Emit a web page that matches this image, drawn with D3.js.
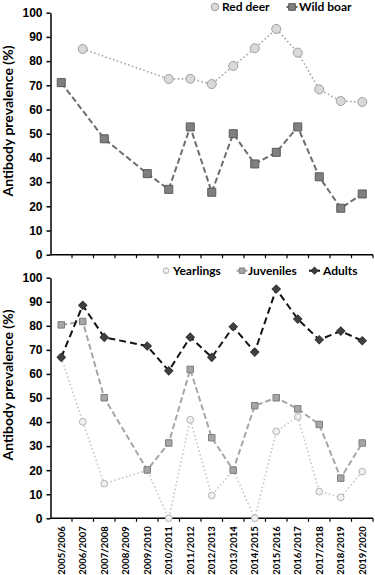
<!DOCTYPE html>
<html>
<head>
<meta charset="utf-8">
<script src="https://cdn.jsdelivr.net/npm/d3@7"></script>
<style>
	body { margin: 0; background: #fff; }
	svg { display: block; font-family: Lato, 'Open Sans', sans-serif; }
</style>
</head>
<body>
<div id="chart"></div>
<script>
const seasons = ['2005/2006', '2006/2007', '2007/2008', '2008/2009', '2009/2010', '2010/2011', '2011/2012',
	'2012/2013', '2013/2014', '2014/2015', '2015/2016', '2016/2017', '2017/2018', '2018/2019', '2019/2020'];

// top panel
const redDeer = [null, 85, null, null, null, 72.6, 72.7, 70.5, 78, 85.3, 93.3, 83.5, 68.3, 63.5, 63.1];
const wildBoar = [71.1, null, 47.9, null, 33.5, 27, 52.8, 25.8, 50, 37.5, 42.3, 52.8, 32.2, 19.2, 25.1];

// bottom panel (wild boar by age)
const yearlings = [66.9, 40.1, 14.4, null, 20, 0, 41, 9.5, 20, 0, 36.1, 42.2, 11.1, 8.7, 19.4];
const juveniles = [80.4, 81.8, 50.1, null, 20.1, 31.3, 61.9, 33.5, 20, 46.8, 50.1, 45.5, 39, 16.7, 31.3];
const adults = [66.9, 88.5, 75.2, null, 71.6, 61.3, 75.3, 66.9, 79.6, 69.1, 95.3, 82.8, 74.2, 77.8, 73.8];

const yTicks = [0, 10, 20, 30, 40, 50, 60, 70, 80, 90, 100];

const svg = d3.select('#chart').append('svg').attr('width', 375).attr('height', 575);

const x = d3.scaleBand().domain(seasons).range([50.5, 373]);

function drawPanel(y, series, labelY) {
	const g = svg.append('g');

	g.append('g')
		.attr('transform', 'translate(50.5,0)')
		.call(d3.axisLeft(y).tickValues(yTicks).tickSize(4).tickSizeOuter(0).tickPadding(4))
		.call((a) => a.selectAll('path, line').attr('stroke', '#000').attr('stroke-width', 1.5))
		.call((a) => a.selectAll('text').attr('font-size', 12).attr('font-weight', 'bold').attr('fill', '#000'));

	// x axis line with ticks at band boundaries
	const xa = g.append('g').attr('transform', `translate(0,${y(0)})`);
	xa.append('line')
		.attr('x1', 50.5)
		.attr('x2', 373)
		.attr('stroke', '#000')
		.attr('stroke-width', 1.5);
	xa.selectAll('.xt')
		.data(seasons)
		.enter()
		.append('line')
		.attr('x1', (d) => x(d) + x.step())
		.attr('x2', (d) => x(d) + x.step())
		.attr('y1', 0)
		.attr('y2', 3.5)
		.attr('stroke', '#000')
		.attr('stroke-width', 1.2);

	g.append('text')
		.attr('transform', `translate(13,${labelY}) rotate(-90)`)
		.attr('text-anchor', 'middle')
		.attr('font-size', 14)
		.attr('font-weight', 'bold')
		.text('Antibody prevalence (%)');

	series.forEach((s) => {
		const pts = s.values.map((v, i) => [seasons[i], v]).filter((d) => d[1] !== null);
		const line = d3
			.line()
			.x((d) => x(d[0]) + x.bandwidth() / 2)
			.y((d) => y(d[1]));
		g.append('path')
			.datum(pts)
			.attr('d', line)
			.attr('fill', 'none')
			.attr('stroke', s.stroke)
			.attr('stroke-width', s.width)
			.attr('stroke-dasharray', s.dash);
		g.selectAll(null)
			.data(pts)
			.enter()
			.append('path')
			.attr('transform', (d) => `translate(${x(d[0]) + x.bandwidth() / 2},${y(d[1])}) rotate(${s.rot || 0})`)
			.attr('d', d3.symbol().type(s.symbol).size(s.size))
			.attr('fill', s.fill)
			.attr('stroke', s.edge)
			.attr('stroke-width', 1);
	});
}

function drawLegend(items, ly) {
	const lg = svg.append('g').attr('transform', `translate(0,${ly})`);
	items.forEach((it) => {
		if (it.seg) {
			lg.append('line')
				.attr('x1', it.x - 5.5)
				.attr('x2', it.x + 5.5)
				.attr('stroke', it.s.stroke)
				.attr('stroke-width', 2);
		}
		lg.append('path')
			.attr('transform', `translate(${it.x},0) rotate(${it.s.rot || 0})`)
			.attr('d', d3.symbol().type(it.s.symbol).size(it.s.size * 0.7))
			.attr('fill', it.s.fill)
			.attr('stroke', it.s.edge);
		lg.append('text')
			.attr('x', it.tx)
			.attr('dy', '0.36em')
			.attr('font-size', 12)
			.attr('font-weight', 'bold')
			.text(it.label);
	});
}

const yTop = d3.scaleLinear().domain([0, 100]).range([254.7, 12.7]);
const yBot = d3.scaleLinear().domain([0, 100]).range([518.3, 277.7]);

const deerStyle = { values: redDeer, stroke: '#a6a6a6', width: 1.6, dash: '1.6 2.4', symbol: d3.symbolCircle, size: 64, fill: '#d9d9d9', edge: '#a0a0a0' };
const boarStyle = { values: wildBoar, stroke: '#6e6e6e', width: 2, dash: '6 3', symbol: d3.symbolSquare, size: 64, fill: '#808080', edge: '#5a5a5a' };
const yearStyle = { values: yearlings, stroke: '#c8c8c8', width: 1.6, dash: '1.6 2.4', symbol: d3.symbolCircle, size: 36, fill: '#f0f0f0', edge: '#b4b4b4' };
const juvStyle = { values: juveniles, stroke: '#a6a6a6', width: 2, dash: '6 3', symbol: d3.symbolSquare, size: 42, fill: '#a6a6a6', edge: '#7f7f7f' };
const adultStyle = { values: adults, stroke: '#111', width: 2, dash: '7 4', symbol: d3.symbolSquare, size: 34, rot: 45, fill: '#404040', edge: '#333' };

drawPanel(yTop, [deerStyle, boarStyle], 121);
drawPanel(yBot, [yearStyle, juvStyle, adultStyle], 385);

drawLegend([
	{ s: deerStyle, x: 215, tx: 222, label: 'Red deer', seg: false },
	{ s: boarStyle, x: 292, tx: 299, label: 'Wild boar', seg: true }
], 7);
drawLegend([
	{ s: yearStyle, x: 166, tx: 173, label: 'Yearlings', seg: false },
	{ s: juvStyle, x: 242, tx: 248, label: 'Juveniles', seg: true },
	{ s: adultStyle, x: 314.5, tx: 323, label: 'Adults', seg: true }
], 270.7);

// x tick labels under the bottom panel
svg.append('g')
	.selectAll('text')
	.data(seasons)
	.enter()
	.append('text')
	.attr('transform', (d) => `translate(${x(d) + x.bandwidth() / 2},${yBot(0) + 8}) rotate(-90)`)
	.attr('text-anchor', 'end')
	.attr('dy', '0.35em')
	.attr('font-size', 9.5)
	.attr('font-weight', 'bold')
	.text((d) => d);
</script>
</body>
</html>
